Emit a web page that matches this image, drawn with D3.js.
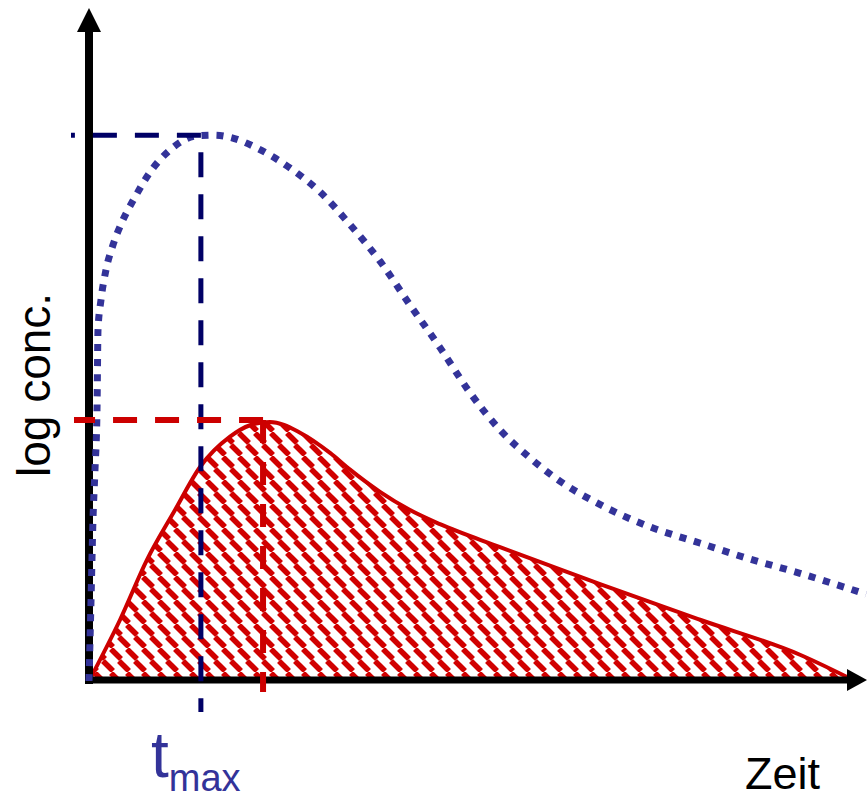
<!DOCTYPE html>
<html>
<head>
<meta charset="utf-8">
<script src="https://cdn.jsdelivr.net/npm/d3@7"></script>
<style>
  html, body { margin: 0; padding: 0; background: #ffffff; }
  svg { display: block; }
  text { font-family: "Liberation Sans", Arial, sans-serif; }
</style>
</head>
<body>
<div id="chart"></div>
<script>
// Concentration-time curves (time and log concentration in relative units, 0..100)
const blueTime = [0, 0.26, 0.51, 0.77, 1.03, 1.16, 1.54, 2.19, 3.09, 4.25, 5.92, 7.85, 10.42, 13.9, 16.2, 18.1, 21.6, 25.9, 29.7, 33.6, 37.5, 41.3, 45.2, 49.0, 52.9, 56.8, 60.6, 65.8, 72.2, 78.6, 85.1, 91.5, 100];
const blueConc = [0, 12.0, 23.9, 31.4, 40.3, 52.2, 56.6, 61.1, 64.8, 68.2, 71.9, 75.6, 78.9, 81.0, 81.1, 80.8, 79.2, 76.2, 72.7, 67.8, 62.3, 55.9, 49.5, 42.9, 37.3, 33.1, 29.7, 26.2, 22.9, 20.5, 18.1, 16.0, 12.9];

const redTime = [0, 4.0, 7.46, 11.07, 14.29, 18.15, 20.72, 23.29, 27.16, 31.02, 33.6, 37.45, 41.31, 45.17, 52.9, 65.77, 78.64, 91.5, 98.6];
const redConc = [0, 9.1, 18.0, 25.4, 31.8, 36.3, 38.0, 38.5, 36.9, 33.9, 31.4, 28.1, 25.4, 23.3, 19.9, 14.4, 9.1, 3.9, 0];

// Guide lines: time of maximum and maximum concentration for each curve
const blueTmax = 14.4, blueCmax = 81.1;
const redTmax = 22.4, redCmax = 38.8;

// Axis and guide labels
const yLabel = "log conc.";
const xLabel = "Zeit";
const tmaxMain = "t", tmaxSub = "max";

const W = 867, H = 799;
const x = d3.scaleLinear().domain([0, 100]).range([89, 866]);
const y = d3.scaleLinear().domain([0, 100]).range([681, 8]);

const svg = d3.select("#chart").append("svg")
  .attr("width", W).attr("height", H);

// Hatch pattern: rows of down-right dashes, alternate rows staggered
const defs = svg.append("defs");
const TW = 16, TH = 24;
const pat = defs.append("pattern")
  .attr("id", "hatch")
  .attr("patternUnits", "userSpaceOnUse")
  .attr("width", TW).attr("height", TH);
const hatchSegs = [
  [-1, 1, 9, 11], [15, 1, 25, 11],
  [7, 13, 17, 23], [-9, 13, 1, 23]
];
pat.append("rect").attr("width", TW).attr("height", TH).attr("fill", "#ffffff");
pat.selectAll("line").data(hatchSegs).join("line")
  .attr("x1", d => d[0]).attr("y1", d => d[1])
  .attr("x2", d => d[2]).attr("y2", d => d[3])
  .attr("stroke", "#d10000").attr("stroke-width", 5.5)
  .attr("stroke-linecap", "butt");

const redData = redTime.map((t, i) => [t, redConc[i]]);
const blueData = blueTime.map((t, i) => [t, blueConc[i]]);

const area = d3.area()
  .x(d => x(d[0])).y0(y(0)).y1(d => y(d[1]))
  .curve(d3.curveMonotoneX);
const line = d3.line()
  .x(d => x(d[0])).y(d => y(d[1]))
  .curve(d3.curveMonotoneX);

// Red curve: hatched area and outline
svg.append("path").datum(redData)
  .attr("d", area)
  .attr("fill", "url(#hatch)");
svg.append("path").datum(redData)
  .attr("d", line)
  .attr("fill", "none")
  .attr("stroke", "#cc0000").attr("stroke-width", 4);

// Axes with arrowheads
const axisG = svg.append("g");
const x0 = x(0), y0 = y(0);
axisG.append("line")
  .attr("x1", x0).attr("y1", y0 + 3).attr("x2", x0).attr("y2", 30)
  .attr("stroke", "#000").attr("stroke-width", 8);
axisG.append("path")
  .attr("d", `M${x0},8 L${x0 - 12},32 L${x0 + 12},32 Z`)
  .attr("fill", "#000");
axisG.append("line")
  .attr("x1", x0 - 4).attr("y1", y0 - 1).attr("x2", 849).attr("y2", y0 - 1)
  .attr("stroke", "#000").attr("stroke-width", 7);
axisG.append("path")
  .attr("d", `M867,${y0 - 1} L847,${y0 - 12} L847,${y0 + 10} Z`)
  .attr("fill", "#000");

// Blue curve: dotted
svg.append("path").datum(blueData)
  .attr("d", line)
  .attr("fill", "none")
  .attr("stroke", "#333399").attr("stroke-width", 7)
  .attr("stroke-dasharray", "7,8");

// Guide lines (dashed)
const bx = x(blueTmax), by = y(blueCmax);
const rx = x(redTmax), ry = y(redCmax);
svg.append("line")
  .attr("x1", bx).attr("y1", by).attr("x2", 71).attr("y2", by)
  .attr("stroke", "#000066").attr("stroke-width", 5)
  .attr("stroke-dasharray", "24,18");
svg.append("line")
  .attr("x1", bx).attr("y1", by).attr("x2", bx).attr("y2", 712)
  .attr("stroke", "#000066").attr("stroke-width", 5)
  .attr("stroke-dasharray", "25,17").attr("stroke-dashoffset", 25);
svg.append("line")
  .attr("x1", rx).attr("y1", ry).attr("x2", 74).attr("y2", ry)
  .attr("stroke", "#cc0000").attr("stroke-width", 6)
  .attr("stroke-dasharray", "24,18");
svg.append("line")
  .attr("x1", rx).attr("y1", ry).attr("x2", rx).attr("y2", 692)
  .attr("stroke", "#cc0000").attr("stroke-width", 6)
  .attr("stroke-dasharray", "23,19");

// Labels
svg.append("text")
  .attr("transform", "translate(50,477) rotate(-90)")
  .attr("font-size", 46).attr("fill", "#000")
  .text(yLabel);
svg.append("text")
  .attr("x", 745).attr("y", 789)
  .attr("font-size", 45).attr("fill", "#000")
  .text(xLabel);
const tl = svg.append("text")
  .attr("x", 151).attr("y", 777)
  .attr("fill", "#333399");
tl.append("tspan").attr("font-size", 64).text(tmaxMain);
tl.append("tspan").attr("font-size", 38).attr("dy", 14).text(tmaxSub);
</script>
</body>
</html>
